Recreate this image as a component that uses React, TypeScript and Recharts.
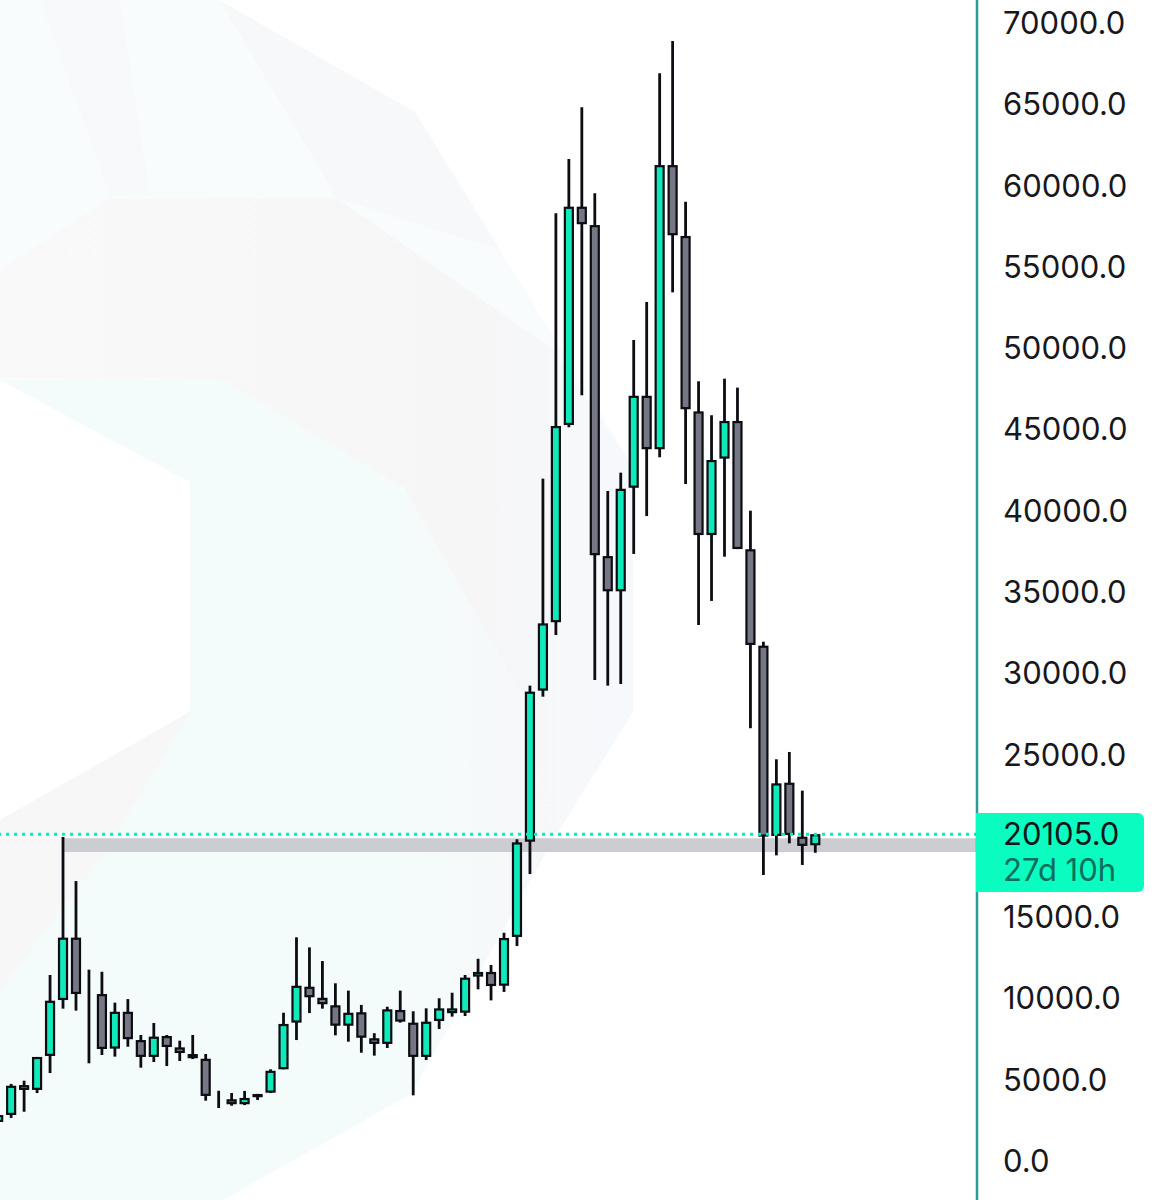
import React from 'react'
import { Bar, ComposedChart, ReferenceArea, ReferenceLine, XAxis, YAxis } from 'recharts'

// monthly candles, oldest first
const opens = [
  2400, 2830, 4370, 4370, 6460, 9900, 13740, 10330, 10270, 6910, 9180, 7440, 6400, 7690, 6990, 6580,
  6290, 4000, 3800, 3490, 4120, 4200, 5640, 8510, 10720, 10040, 9580, 8320, 9150, 7550, 7200, 9290,
  8510, 6400, 8610, 9090, 9120, 11340, 11630, 10780, 13780, 19640, 28930, 33140, 45270, 58700, 57570, 37210,
  35040, 41410, 47070, 43780, 61260, 56900, 46110, 38500, 43200, 45520, 37630, 31700, 19990, 23270, 19950, 19420,
]
const closes = [
  2830, 4630, 4670, 6400, 9860, 13740, 10270, 10210, 6890, 9180, 7490, 6400, 7650, 7010, 6640, 6320,
  4000, 3880, 3490, 3880, 3920, 5550, 8430, 10780, 10070, 9640, 8320, 9120, 7580, 7200, 9330, 8570,
  6400, 8570, 9390, 9390, 11280, 11630, 10760, 13720, 19600, 28870, 33070, 45210, 58700, 57620, 37260, 35040,
  41350, 47070, 43780, 61260, 56940, 46240, 38500, 43120, 45520, 37640, 31740, 19950, 23230, 20050, 19380, 20105,
]
const highs = [
  2900, 4740, 4940, 6400, 11440, 19930, 17220, 11770, 11640, 9740, 9960, 7750, 8490, 7750, 7400, 7750,
  6580, 4320, 4180, 4310, 4130, 5640, 9120, 13760, 13140, 12300, 10930, 10480, 9600, 7860, 9490, 10480,
  9210, 9390, 10010, 10350, 11440, 12440, 12060, 14040, 19790, 29240, 41970, 58290, 61630, 64810, 59520, 41210,
  42340, 50500, 52840, 66900, 68890, 59010, 47960, 45870, 48120, 47570, 40000, 31940, 24710, 25160, 22780, 20110,
]
const lows = [
  2350, 2650, 3030, 4180, 5410, 9370, 9250, 6010, 6520, 6420, 7030, 5740, 6090, 5840, 6150, 6270,
  3710, 3260, 3400, 3440, 3750, 4180, 5640, 7440, 9100, 9370, 7730, 7340, 6660, 6480, 6950, 8510,
  4040, 6210, 8120, 8880, 8920, 10560, 9880, 10400, 13220, 17650, 28560, 32350, 45130, 47100, 29590, 29240,
  29340, 37340, 39670, 43290, 53430, 41640, 32970, 34450, 37170, 37640, 26620, 17590, 18800, 19540, 18210, 18960,
]
const priceTicks = [0, 5000, 10000, 15000, 25000, 30000, 35000, 40000, 45000, 50000, 55000, 60000, 65000, 70000]
const lastPrice = 20105
const countdown = '27d 10h'
const zoneLow = 19000
const zoneHigh = 19850

const rows = opens.map((open, index) => ({
  index,
  open,
  close: closes[index],
  range: [lows[index], highs[index]],
}))

const UP = '#0feabb'
const DOWN = '#767785'
const INK = '#0c0c12'
const FONT = 'Inter, Roboto, sans-serif'

const Candle = (props: any) => {
  const { x, y, width, height, payload } = props
  const [low, high] = payload.range
  const cx = x + width / 2
  const perUnit = height / (high - low)
  const top = y + (high - Math.max(payload.open, payload.close)) * perUnit
  const bottom = y + (high - Math.min(payload.open, payload.close)) * perUnit
  const bodyTop = top + 1.1
  const bodyHeight = Math.max(bottom - top - 2.2, 0)
  return (
    <g>
      <line x1={cx} x2={cx} y1={y} y2={y + height} stroke={INK} strokeWidth={2.8} />
      <rect
        x={cx - 4}
        y={bodyTop}
        width={8}
        height={bodyHeight}
        fill={payload.close >= payload.open ? UP : DOWN}
        stroke={INK}
        strokeWidth={2.2}
      />
    </g>
  )
}

// faint watermark behind the candles
const Watermark = () => (
  <svg width={975} height={1200} style={{ position: 'absolute', left: 0, top: 0 }}>
    <defs>
      <linearGradient id="band" x1="0" x2="1" y1="0" y2="0">
        <stop offset="0" stopColor="#f9f9fa" />
        <stop offset="0.75" stopColor="#f6f6f7" />
        <stop offset="1" stopColor="#f6f9fc" />
      </linearGradient>
      <linearGradient id="mint" x1="0" x2="1" y1="0" y2="0">
        <stop offset="0" stopColor="#f4fbfb" />
        <stop offset="0.7" stopColor="#f4fcfb" />
        <stop offset="1" stopColor="#f7f7f8" />
      </linearGradient>
    </defs>
    <polygon points="0,0 219,0 415,112 633,466 633,712 553,840 411,1094 223,1200 0,1200 0,820 190,712 190,482 0,380" fill="#f9fcfd" />
    <polygon points="219,0 415,112 500,250 337,198" fill="#f7f8fa" />
    <polygon points="40,0 120,0 150,195 110,195" fill="#f7f9fb" />
    <polygon points="0,270 110,198 337,198 551,348 633,466 633,712 553,840 522,696 404,488 219,378 0,378" fill="url(#band)" />
    <polygon points="0,380 219,378 404,488 522,696 553,840 411,1094 223,1200 0,1200 0,820 190,712 190,482" fill="url(#mint)" />
    <polygon points="190,712 105,853 45,930 0,990 0,820" fill="#f7f7f7" />
  </svg>
)

const App = () => {
  return (
    <div style={{ position: 'absolute', left: 0, top: 0, width: 1166, height: 1200, background: '#fff', overflow: 'hidden' }}>
      <Watermark />
      <div style={{ position: 'absolute', left: 0, top: 0 }}>
        <ComposedChart width={1166} height={1200} data={rows} margin={{ top: 0, right: 0, bottom: 0, left: 0 }}>
          <XAxis
            dataKey="index"
            type="number"
            domain={[0.104, 75.43]}
            allowDataOverflow
            hide
          />
          <YAxis
            orientation="right"
            width={189}
            domain={[-2399, 71413]}
            allowDataOverflow
            ticks={priceTicks}
            interval={0}
            tickFormatter={(value: number) => value.toFixed(1)}
            tick={{ fill: '#17171c', fontSize: 31, fontFamily: FONT }}
            tickLine={false}
            tickSize={0}
            tickMargin={26}
            axisLine={{ stroke: '#2b9c96', strokeWidth: 2.5 }}
          />
          <ReferenceArea
            x1={5}
            x2={75.43}
            y1={zoneLow}
            y2={zoneHigh}
            fill="#c9cad1"
            fillOpacity={0.95}
            stroke="none"
            ifOverflow="extendDomain"
          />
          <Bar dataKey="range" barSize={10} shape={Candle} isAnimationActive={false} />
          <ReferenceLine y={lastPrice} stroke="#12e8b8" strokeWidth={3} strokeDasharray="3 5" />
        </ComposedChart>
      </div>
      <div
        style={{
          position: 'absolute',
          left: 976,
          top: 813,
          width: 168,
          height: 79,
          background: '#0bfcc0',
          borderRadius: '0 6px 6px 0',
          fontFamily: FONT,
          fontSize: 31,
          lineHeight: '36px',
          paddingTop: 3,
          boxSizing: 'border-box',
          paddingLeft: 27,
        }}
      >
        <div style={{ color: '#10151a' }}>{lastPrice.toFixed(1)}</div>
        <div style={{ color: '#0a6e5c' }}>{countdown}</div>
      </div>
    </div>
  )
}

export default App
